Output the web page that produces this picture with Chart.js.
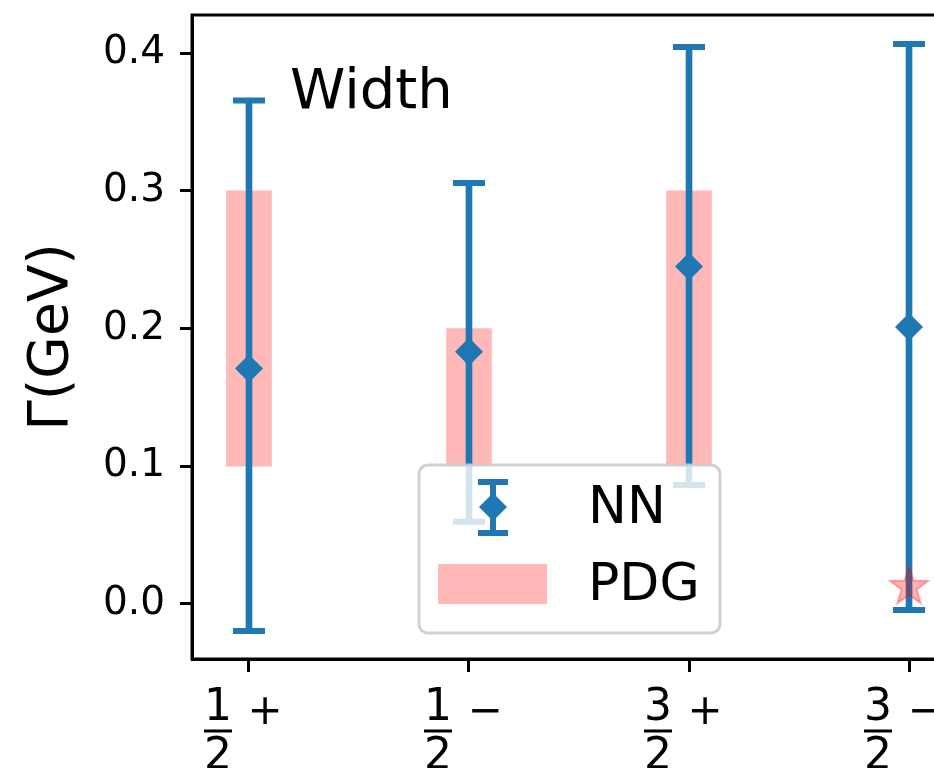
<!DOCTYPE html>
<html>
<head>
<meta charset="utf-8">
<script src="https://cdn.jsdelivr.net/npm/chart.js@4"></script>
<style>
  html, body { margin: 0; padding: 0; background: #fff; overflow: hidden; }
  #wrap { position: absolute; left: 0; top: 0; width: 1000px; height: 768px; }
</style>
</head>
<body>
<div id="wrap"><canvas id="widthChart"></canvas></div>
<script>
// tick labels: J^P as fraction + parity
const numerators = ['1', '1', '3', '3'];
const denominators = ['2', '2', '2', '2'];
const parities = ['+', '\u2212', '+', '\u2212'];
const yTicks = [0, 0.1, 0.2, 0.3, 0.4];

// NN prediction with error bars
const nnValue = [0.171, 0.183, 0.245, 0.201];
const nnHigh = [0.3655, 0.3056, 0.4043, 0.4065];
const nnLow = [-0.0196, 0.0597, 0.0864, -0.0044];

// PDG ranges (last state only has a point)
const pdgLow = [0.1, 0.1, 0.1, null];
const pdgHigh = [0.3, 0.2, 0.3, null];
const pdgPoint = [null, null, null, 0.0123];

const blue = '#1f77b4';
const pink = 'rgba(255, 0, 0, 0.28)';
const font = '"DejaVu Sans", sans-serif';

function makeStar(R, r) {
    const c = document.createElement('canvas');
    const s = Math.ceil(R * 2 + 4);
    c.width = s; c.height = s;
    const g = c.getContext('2d');
    g.translate(s / 2, s / 2);
    g.beginPath();
    for (let i = 0; i < 10; i++) {
        const rad = i % 2 ? r : R;
        const a = -Math.PI / 2 + i * Math.PI / 5;
        g.lineTo(rad * Math.cos(a), rad * Math.sin(a));
    }
    g.closePath();
    g.fillStyle = 'rgba(255,0,0,0.3)';
    g.fill();
    g.strokeStyle = 'rgba(255,0,0,0.3)';
    g.lineWidth = 2;
    g.stroke();
    return c;
}

const idx = [0, 1, 2, 3];

// frame, text, x labels and legend
const decorPlugin = {
    id: 'decor',
    afterDatasetsDraw(chart) {
        const ctx = chart.ctx;
        const a = chart.chartArea;
        const x = chart.scales.x;
        ctx.save();
        // frame
        ctx.strokeStyle = '#000';
        ctx.lineWidth = 3;
        ctx.strokeRect(a.left, a.top, a.right - a.left, a.bottom - a.top);

        // "Width" label
        ctx.fillStyle = '#000';
        ctx.font = '56px ' + font;
        ctx.textAlign = 'left';
        ctx.textBaseline = 'alphabetic';
        ctx.fillText('Width', a.left + 98, a.top + 93);

        // fraction tick labels
        idx.forEach(i => {
            const px = x.getPixelForValue(i);
            const fx = px - 31;
            ctx.font = '44px ' + font;
            ctx.textAlign = 'center';
            ctx.fillText(numerators[i], fx, 720);
            ctx.fillText(denominators[i], fx, 769);
            ctx.fillRect(fx - 14, 729.5, 28, 3);
            ctx.font = '42px ' + font;
            ctx.fillText(parities[i], px + 16, 724);
        });

        // legend
        const lx = a.left + 227, ly = a.top + 450, lw = 301, lh = 168;
        ctx.beginPath();
        ctx.roundRect(lx, ly, lw, lh, 9);
        ctx.fillStyle = 'rgba(255,255,255,0.8)';
        ctx.fill();
        ctx.strokeStyle = 'rgba(204,204,204,0.9)';
        ctx.lineWidth = 3;
        ctx.stroke();

        // NN errorbar symbol
        const mx = lx + 74, my = ly + 42;
        ctx.strokeStyle = blue;
        ctx.lineWidth = 6;
        ctx.beginPath();
        ctx.moveTo(mx, my - 25); ctx.lineTo(mx, my + 26);
        ctx.moveTo(mx - 15, my - 25); ctx.lineTo(mx + 15, my - 25);
        ctx.moveTo(mx - 15, my + 26); ctx.lineTo(mx + 15, my + 26);
        ctx.stroke();
        ctx.fillStyle = blue;
        ctx.beginPath();
        ctx.moveTo(mx, my - 14); ctx.lineTo(mx + 14, my);
        ctx.lineTo(mx, my + 14); ctx.lineTo(mx - 14, my);
        ctx.closePath();
        ctx.fill();

        // PDG patch
        ctx.fillStyle = pink;
        ctx.fillRect(lx + 19, ly + 99, 109, 40);

        ctx.fillStyle = '#000';
        ctx.font = '52px ' + font;
        ctx.textAlign = 'left';
        ctx.textBaseline = 'middle';
        ctx.fillText(chart.data.datasets[3].label, lx + 169, my + 2);
        ctx.fillText(chart.data.datasets[0].label, lx + 169, ly + 121);
        ctx.restore();
    }
};

const ctx = document.getElementById('widthChart').getContext('2d');
new Chart(ctx, {
    type: 'bar',
    data: {
        datasets: [
            {
                label: 'PDG',
                data: idx.filter(i => pdgLow[i] !== null).map(i => ({ x: i, y: [pdgLow[i], pdgHigh[i]] })),
                backgroundColor: pink,
                barThickness: 45,
                grouped: false,
                order: 6,
            },
            {
                label: 'NN bar',
                data: idx.map(i => ({ x: i, y: [nnLow[i], nnHigh[i]] })),
                backgroundColor: blue,
                barThickness: 6,
                grouped: false,
                order: 5,
            },
            {
                type: 'line',
                label: 'caps',
                data: idx.map(i => ({ x: i, y: nnHigh[i] })).concat(idx.map(i => ({ x: i, y: nnLow[i] }))),
                showLine: false,
                pointStyle: 'line',
                pointRadius: 16,
                pointBorderWidth: 6,
                pointBorderColor: blue,
                order: 4,
            },
            {
                type: 'line',
                label: 'NN',
                data: idx.map(i => ({ x: i, y: nnValue[i] })),
                showLine: false,
                pointStyle: 'rectRot',
                pointRadius: 14,
                pointBorderWidth: 0,
                pointBackgroundColor: blue,
                order: 3,
            },
            {
                type: 'line',
                label: 'PDG point',
                data: idx.filter(i => pdgPoint[i] !== null).map(i => ({ x: i, y: pdgPoint[i] })),
                showLine: false,
                pointStyle: makeStar(20, 8),
                order: 2,
            },
        ],
    },
    options: {
        responsive: true,
        maintainAspectRatio: false,
        animation: false,
        events: [],
        layout: { autoPadding: false, padding: { top: 15, right: 34, left: 0, bottom: 0 } },
        plugins: { legend: { display: false }, tooltip: { enabled: false } },
        scales: {
            x: {
                type: 'linear',
                min: -0.259,
                max: 3.259,
                offset: false,
                afterBuildTicks: s => { s.ticks = idx.map(v => ({ value: v })); },
                afterFit: s => { s.height = 109; s.paddingLeft = 0; s.paddingRight = 0; },
                grid: { offset: false, drawOnChartArea: false, drawTicks: true, tickLength: 13, tickWidth: 3, tickColor: '#000' },
                border: { display: true, color: '#000', width: 3 },
                ticks: { display: false },
            },
            y: {
                min: -0.04,
                max: 0.4276,
                afterBuildTicks: s => { s.ticks = yTicks.map(v => ({ value: v })); },
                afterFit: s => { s.width = 192; s.paddingTop = 0; s.paddingBottom = 0; },
                grid: { drawOnChartArea: false, drawTicks: true, tickLength: 12, tickWidth: 3, tickColor: '#000' },
                border: { display: true, color: '#000', width: 3 },
                ticks: {
                    color: '#000',
                    padding: 15,
                    font: { family: font, size: 39 },
                    callback: v => v.toFixed(1),
                },
                title: {
                    display: true,
                    text: '\u0393(GeV)',
                    color: '#000',
                    font: { family: font, size: 55 },
                    padding: { top: 20, bottom: 0 },
                },
            },
        },
    },
    plugins: [decorPlugin],
});
</script>
</body>
</html>
